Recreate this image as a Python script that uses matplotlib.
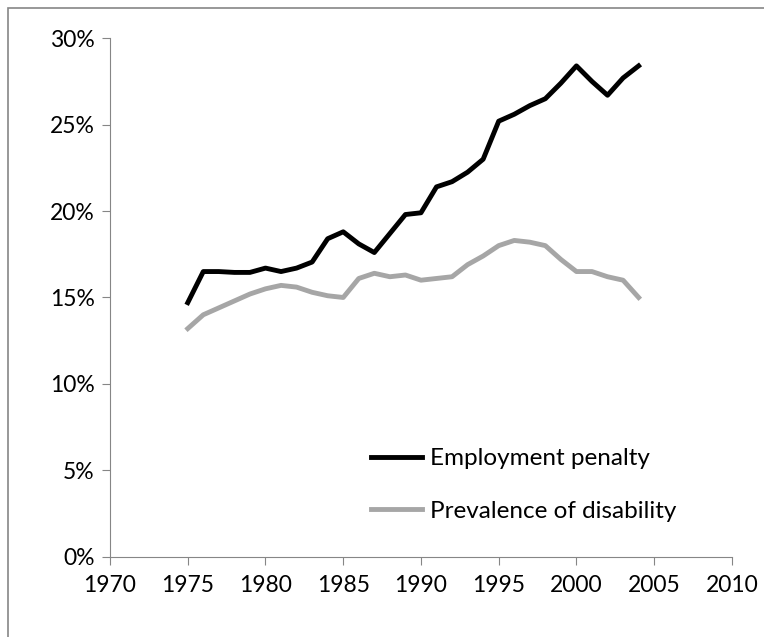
import matplotlib
matplotlib.use("Agg")
import matplotlib.pyplot as plt
from matplotlib.patches import Rectangle
from matplotlib.ticker import PercentFormatter

# Data (percent)
years = list(range(1975, 2005))
employment_penalty = [14.7, 16.5, 16.5, 16.45, 16.45, 16.7, 16.5, 16.7, 17.05, 18.4,
                      18.8, 18.1, 17.6, 18.7, 19.8, 19.9, 21.4, 21.7, 22.25, 23.0,
                      25.2, 25.6, 26.1, 26.5, 27.4, 28.4, 27.5, 26.7, 27.7, 28.4]
prevalence = [13.2, 14.0, 14.4, 14.8, 15.2, 15.5, 15.7, 15.6, 15.3, 15.1,
              15.0, 16.1, 16.4, 16.2, 16.3, 16.0, 16.1, 16.2, 16.9, 17.4,
              18.0, 18.3, 18.2, 18.0, 17.2, 16.5, 16.5, 16.2, 16.0, 15.0]
x_ticks = list(range(1970, 2011, 5))
y_ticks = [0, 5, 10, 15, 20, 25, 30]

plt.rcParams['font.family'] = ['Lato', 'DejaVu Sans']

fig = plt.figure(figsize=(7.64, 6.37), dpi=100)
ax = fig.add_axes([0.144, 0.126, 0.814, 0.814])

# Outer chart frame
fig.patches.append(Rectangle((8 / 764, -0.05), 1.2, 1 - 8 / 637 + 0.05,
                             transform=fig.transFigure, fill=False,
                             edgecolor='#868686', linewidth=1.2))

ax.plot(years, employment_penalty, color='black', linewidth=3.5,
        solid_joinstyle='round', label='Employment penalty')
ax.plot(years, prevalence, color='#a6a6a6', linewidth=3.5,
        solid_joinstyle='round', label='Prevalence of disability')

ax.set_xlim(1970, 2010)
ax.set_ylim(0, 30)
ax.set_xticks(x_ticks)
ax.set_yticks(y_ticks)
ax.yaxis.set_major_formatter(PercentFormatter(decimals=0))

for side in ['top', 'right']:
    ax.spines[side].set_visible(False)
for side in ['left', 'bottom']:
    ax.spines[side].set_color('#868686')
ax.tick_params(axis='both', colors='#868686', labelcolor='black',
               length=6, labelsize=16.5)
ax.tick_params(axis='x', pad=7)
ax.tick_params(axis='y', pad=5)

ax.legend(loc='lower left', bbox_to_anchor=(0.385, 0.025), frameon=False,
          fontsize=17.5, handlelength=2.1, handletextpad=0.3, labelspacing=1.3)

plt.savefig("out.png", dpi=100)
